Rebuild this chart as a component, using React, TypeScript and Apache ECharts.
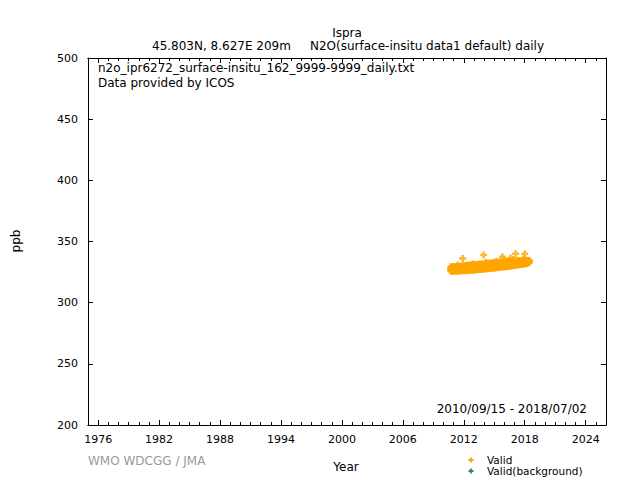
import React, { useEffect, useRef } from "react";
import * as echarts from "echarts";

const yearTicks = [1976, 1982, 1988, 1994, 2000, 2006, 2012, 2018, 2024];
const minorYears = [1975,1976,1977,1978,1979,1980,1981,1982,1983,1984,1985,1986,1987,1988,1989,1990,1991,1992,1993,1994,1995,1996,1997,1998,1999,2000,2001,2002,2003,2004,2005,2006,2007,2008,2009,2010,2011,2012,2013,2014,2015,2016,2017,2018,2019,2020,2021,2022,2023,2024,2025,2026];

// monthly estimates from Sep 2010 to Jun 2018 (94 months)
const startYear = 2010;
const startMonth = 9;
const lowVals = [
  325.8, 325.6, 325.9, 325.7,
  325.8, 325.6, 325.9, 326.1, 325.8, 326.0, 326.2, 325.9, 326.0, 326.2, 326.3, 326.1,
  326.3, 326.1, 326.4, 326.6, 326.3, 326.7, 326.8, 326.5, 326.6, 326.8, 327.0, 326.8,
  326.9, 326.7, 327.1, 327.3, 327.0, 327.4, 327.6, 327.2, 327.3, 327.6, 327.8, 327.5,
  327.6, 327.5, 327.9, 328.1, 327.8, 328.2, 328.4, 328.0, 328.1, 328.4, 328.6, 328.4,
  328.4, 328.3, 328.7, 329.0, 328.6, 329.1, 329.3, 328.9, 328.9, 329.3, 329.5, 329.3,
  329.4, 329.3, 329.7, 330.0, 329.6, 330.1, 330.4, 330.0, 330.0, 330.4, 330.7, 330.5,
  330.6, 330.5, 330.9, 331.2, 330.8, 331.3, 331.6, 331.2, 331.2, 331.6, 331.9, 331.7,
  332.0, 331.9, 332.3, 332.6, 332.4, 332.8,
];
const midVals = [
  327.4, 327.5, 327.7, 327.4,
  327.5, 327.3, 327.6, 327.9, 327.5, 327.8, 328.0, 327.7, 327.8, 328.0, 328.2, 327.9,
  328.2, 328.0, 328.3, 328.5, 328.2, 328.6, 328.7, 328.4, 328.5, 328.7, 328.9, 328.7,
  328.9, 328.7, 329.1, 329.3, 329.0, 329.4, 329.6, 329.2, 329.3, 329.5, 329.7, 329.5,
  329.7, 329.5, 329.9, 330.1, 329.8, 330.2, 330.4, 330.0, 330.1, 330.4, 330.6, 330.4,
  330.5, 330.3, 330.7, 330.9, 330.6, 331.0, 331.2, 330.8, 330.8, 331.2, 331.4, 331.2,
  331.3, 331.2, 331.5, 331.8, 331.4, 331.9, 332.1, 331.7, 331.7, 332.1, 332.3, 332.1,
  332.2, 332.1, 332.4, 332.7, 332.3, 332.8, 333.0, 332.6, 332.6, 332.9, 333.2, 333.0,
  333.1, 333.0, 333.3, 333.6, 333.3, 333.6,
];
const highVals = [
  329.0, 329.3, 329.5, 329.1,
  329.2, 329.0, 329.4, 329.6, 329.3, 329.6, 329.8, 329.5, 329.6, 329.8, 330.0, 329.8,
  330.2, 329.9, 330.3, 330.5, 330.2, 330.5, 330.7, 330.4, 330.5, 330.7, 330.9, 330.7,
  331.0, 330.7, 331.1, 331.3, 331.0, 331.4, 331.6, 331.2, 331.3, 331.5, 331.7, 331.5,
  331.8, 331.6, 331.9, 332.1, 331.8, 332.2, 332.4, 332.0, 332.1, 332.4, 332.6, 332.4,
  332.6, 332.4, 332.7, 332.9, 332.6, 333.0, 333.2, 332.8, 332.8, 333.1, 333.3, 333.1,
  333.3, 333.1, 333.4, 333.6, 333.3, 333.7, 333.9, 333.5, 333.5, 333.8, 334.0, 333.8,
  333.9, 333.7, 334.0, 334.2, 333.9, 334.3, 334.5, 334.1, 334.1, 334.3, 334.5, 334.3,
  334.3, 334.1, 334.4, 334.6, 334.3, 334.5,
];
const spikeYears = [2011.4, 2012.9, 2014.2, 2015.2, 2016.0, 2016.9, 2017.9, 2011.9, 2013.95, 2015.8, 2016.6, 2017.1, 2018.0];
const spikeVals = [330.8, 331.8, 333.0, 333.8, 334.8, 335.3, 335.6, 336.2, 339.0, 337.5, 336.5, 340.0, 340.0];

const PLUS_D = "M1.6,0L3.4,0L3.4,1.6L5,1.6L5,3.4L3.4,3.4L3.4,5L1.6,5L1.6,3.4L0,3.4L0,1.6L1.6,1.6Z";
const PLUS = "path://" + PLUS_D;
const FONT = "DejaVu Sans";

echarts.graphic.registerShape("plusMark", echarts.graphic.extendPath(PLUS_D, {}) as any);

export default function App() {
  const ref = useRef<HTMLDivElement>(null);
  useEffect(() => {
    document.body.style.margin = "0";
    if (!ref.current) return;
    const chart = echarts.init(ref.current, null, { renderer: "svg" });
    const monthX = (i: number) => startYear + (startMonth - 1 + i + 0.5) / 12;
    const validData: number[][] = [];
    [lowVals, midVals, highVals].forEach((arr) =>
      arr.forEach((v, i) => validData.push([monthX(i), v]))
    );
    spikeYears.forEach((y, i) => validData.push([y, spikeVals[i]]));

    const baseX = {
      type: "value" as const,
      min: 1975,
      max: 2026,
      splitLine: { show: false },
      axisLine: { show: true, onZero: false, lineStyle: { color: "#000", width: 1 } },
    };
    chart.setOption({
      animation: false,
      textStyle: { fontFamily: FONT },
      grid: { left: 88, right: 34, top: 58, bottom: 55 },
      xAxis: [
        {
          ...baseX,
          position: "bottom",
          axisTick: { show: true, inside: true, length: 5, customValues: yearTicks, lineStyle: { color: "#000" } },
          axisLabel: { show: true, customValues: yearTicks, color: "#000", fontSize: 11, fontFamily: FONT, margin: 9, formatter: (v: number) => String(v) },
        },
        {
          ...baseX,
          position: "bottom",
          axisTick: { show: true, inside: true, length: 3, customValues: minorYears, lineStyle: { color: "#000" } },
          axisLabel: { show: false },
        },
        {
          ...baseX,
          position: "top",
          axisTick: { show: true, inside: true, length: 5, customValues: yearTicks, lineStyle: { color: "#000" } },
          axisLabel: { show: false },
        },
        {
          ...baseX,
          position: "top",
          axisTick: { show: true, inside: true, length: 3, customValues: minorYears, lineStyle: { color: "#000" } },
          axisLabel: { show: false },
        },
      ],
      yAxis: [
        {
          type: "value",
          min: 200,
          max: 500,
          interval: 50,
          position: "left",
          splitLine: { show: false },
          axisLine: { show: true, lineStyle: { color: "#000" } },
          axisTick: { show: true, inside: true, length: 5, lineStyle: { color: "#000" } },
          axisLabel: { color: "#000", fontSize: 11, fontFamily: FONT, margin: 10 },
        },
        {
          type: "value",
          min: 200,
          max: 500,
          interval: 50,
          position: "right",
          splitLine: { show: false },
          axisLine: { show: true, lineStyle: { color: "#000" } },
          axisTick: { show: true, inside: true, length: 5, lineStyle: { color: "#000" } },
          axisLabel: { show: false },
        },
      ],
      series: [
        {
          name: "Valid",
          type: "scatter",
          symbol: PLUS,
          symbolSize: 7,
          itemStyle: { color: "#FFA500" },
          data: validData,
        },
        {
          name: "Valid(background)",
          type: "scatter",
          symbol: PLUS,
          symbolSize: 7,
          itemStyle: { color: "#2E8B57" },
          data: [],
        },
      ],
      graphic: [
        { type: "text", x: 347, y: 33, style: { text: "Ispra", font: `12px '${FONT}'`, fill: "#000", align: "center", verticalAlign: "middle" } },
        { type: "text", x: 152, y: 40, style: { text: "45.803N, 8.627E 209m     N2O(surface-insitu data1 default) daily", font: `12px '${FONT}'`, fill: "#000" } },
        { type: "text", x: 98, y: 62, style: { text: "n2o_ipr6272_surface-insitu_162_9999-9999_daily.txt", font: `12px '${FONT}'`, fill: "#000" } },
        { type: "text", x: 98, y: 77, style: { text: "Data provided by ICOS", font: `12px '${FONT}'`, fill: "#000" } },
        { type: "text", x: 587, y: 403, style: { text: "2010/09/15 - 2018/07/02", font: `12px '${FONT}'`, fill: "#000", align: "right" } },
        { type: "text", x: 16, y: 241, rotation: Math.PI / 2, style: { text: "ppb", font: `12px '${FONT}'`, fill: "#000", align: "center", verticalAlign: "middle" } },
        { type: "text", x: 346, y: 467, style: { text: "Year", font: `12px '${FONT}'`, fill: "#000", align: "center", verticalAlign: "middle" } },
        { type: "text", x: 88, y: 455, style: { text: "WMO WDCGG / JMA", font: `12px '${FONT}'`, fill: "#999" } },
        { type: "plusMark", x: 468.5, y: 457.5, style: { fill: "#FFA500" } },
        { type: "plusMark", x: 468.5, y: 468.5, style: { fill: "#2E8B57" } },
        { type: "text", x: 487, y: 460, style: { text: "Valid", font: `10.5px '${FONT}'`, fill: "#000", verticalAlign: "middle" } },
        { type: "text", x: 487, y: 471, style: { text: "Valid(background)", font: `10.5px '${FONT}'`, fill: "#000", verticalAlign: "middle" } },
      ],
    });
    return () => chart.dispose();
  }, []);
  return <div ref={ref} style={{ width: 640, height: 480 }} />;
}
